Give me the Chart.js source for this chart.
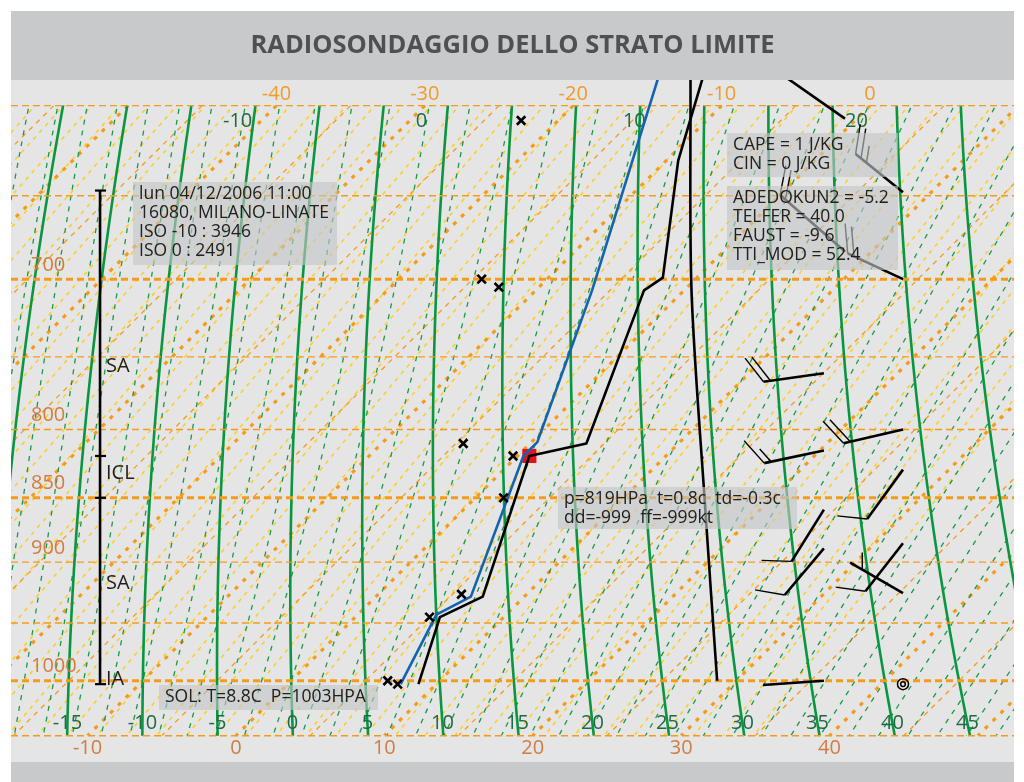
<!DOCTYPE html>
<html>
<head>
<meta charset="utf-8">
<title>Radiosondaggio dello strato limite</title>
<script src="https://cdn.jsdelivr.net/npm/chart.js@4.4.1/dist/chart.umd.min.js"></script>
<style>
  html, body { margin: 0; padding: 0; background: #ffffff; }
  canvas { display: block; }
</style>
</head>
<body>
<canvas id="sounding" width="1024" height="782"></canvas>
<script>
// ---- Station / time ----
const stationLine = '16080, MILANO-LINATE';
const timeLine = 'lun 04/12/2006 11:00';
const isoLevels = ['ISO -10 : 3946', 'ISO 0 : 2491'];
const indexLines = ['ADEDOKUN2 = -5.2', 'TELFER = 40.0', 'FAUST = -9.6', 'TTI_MOD = 52.4'];
const energyLines = ['CAPE = 1 J/KG', 'CIN = 0 J/KG'];

// ---- Sounding (pressure hPa, temperature °C) ----
const tempPressure = [1003, 945, 928, 819, 810, 707, 699, 630, 586];
const tempValues   = [8.8, 5.7, 7.2, 0.8, 3.8, -2.7, -2.3, -9.2, -13.1];

const wetBulbPressure = [1003, 943, 928, 819, 809, 707, 586];
const wetBulbValues   = [7.6, 5.3, 6.4, 0.4, 0.4, -6.2, -16.1];

const dewPressure = [1003, 1000, 945, 926, 850, 819, 810, 705, 700, 608];
const dewValues   = [7.4, 6.5, 5.0, 5.6, 1.9, -0.3, -4.5, -12.7, -14.4, -22.5];

const adiabatPressure = [1000, 859, 707, 586];
const adiabatValues   = [28.7, 16.3, 0.5, -13.9];

// selected level
const selPressure = 819, selTemp = 0.8, selDew = -0.3, selDir = -999, selSpeed = -999;
// surface
const surfTemp = 8.8, surfPressure = 1003;

// ---- Winds (pressure hPa, direction deg, speed kt) ----
const windAPressure = [761, 815, 859, 889, 1000];
const windADir      = [262, 258, 212, 220, 266];
const windASpeed    = [20, 15, 10, 10, 2];
const windBPressure = [648, 700, 800, 829, 885, 925, 1003];
const windBDir      = [309, 295, 257, 216, 218, 300, 0];
const windBSpeed    = [25, 20, 20, 10, 10, 5, 0];
const windCPressure = [607, 683];
const windCDir      = [305, 311];
const windCSpeed    = [30, 20];

// ---- Boundary layer classification column ----
const layerBounds = [647, 819, 850, 1003];
const layerNames = ['SA', 'ICL', 'SA', 'IA'];
const layerNamePressure = [756, 832, 917, 999];

// ---- Diagram grid ----
const isobars = [600, 650, 700, 750, 800, 850, 900, 950, 1000, 1050];
const majorIsobars = [700, 850, 1000];
const pressureLabels = [700, 800, 850, 900, 1000];
const isotherms = [];
for (let t = -120; t <= 60; t += 5) isotherms.push(t);
const topTempLabels = [-40, -30, -20, -10, 0];
const bottomTempLabels = [-10, 0, 10, 20, 30, 40];
const dryAdiabats = [];
for (let th = -20; th <= 50; th += 5) dryAdiabats.push(th);
const dryAdiabatLabels = [-15, -10, -5, 0, 5, 10, 15, 20, 25, 30, 35, 40, 45];
const pseudoAdiabats = [];
for (let tw = -30; tw <= 54; tw += 2) pseudoAdiabats.push(tw);
const pseudoAdiabatLabels = [-10, 0, 10, 20];
const mixingDew1000 = [];
for (let td = -70; td <= 34; td += 2) mixingDew1000.push(td);

// ---- Projection: skewed temperature vs log pressure ----
const P_BASE = 1050;
const SKEW = 76.35;
const P_TOP = 586.5, P_BOTTOM = 1074.8;
const X_MIN = -15.16, X_MAX = 52.43;
const GRID_TOP = 600, GRID_BOTTOM = 1050;
const skewX = (t, p) => t + SKEW * Math.log(P_BASE / p);
const toPoints = (ps, ts) => ps.map((p, i) => ({ x: skewX(ts[i], p), y: p }));

// ---- Thermodynamics for the reference curves ----
const esat = tc => 6.112 * Math.exp(17.67 * tc / (tc + 243.5));
function moistGradient(tk, lnp) {
  const p = Math.exp(lnp);
  const es = esat(tk - 273.15);
  const rs = 0.622 * es / Math.max(p - es, 1);
  const Lv = 2.501e6, Rd = 287.04, Cp = 1005.7;
  return (Rd * tk + Lv * rs) / (Cp + Lv * Lv * rs * 0.622 / (Rd * tk * tk));
}
function pseudoAdiabat(twC, pressures) {
  const out = new Map();
  const up = pressures.filter(p => p <= 1000).sort((a, b) => b - a);
  const down = pressures.filter(p => p > 1000).sort((a, b) => a - b);
  for (const list of [up, down]) {
    let T = twC + 273.15, lp = Math.log(1000);
    for (const p of list) {
      const target = Math.log(p);
      const n = Math.max(1, Math.ceil(Math.abs(target - lp) / 0.004));
      const h = (target - lp) / n;
      for (let i = 0; i < n; i++) {
        const k1 = moistGradient(T, lp);
        const k2 = moistGradient(T + k1 * h / 2, lp + h / 2);
        const k3 = moistGradient(T + k2 * h / 2, lp + h / 2);
        const k4 = moistGradient(T + k3 * h, lp + h);
        T += h * (k1 + 2 * k2 + 2 * k3 + k4) / 6;
        lp += h;
      }
      out.set(p, T - 273.15);
    }
  }
  return pressures.map(p => out.get(p));
}
const dryAdiabatT = (thC, p) => (thC + 273.15) * Math.pow(p / 1000, 0.2857) - 273.15;
function mixingLineT(td1000, p) {
  const es = esat(td1000);
  const w = 0.622 * es / (1000 - es);
  const e = w * p / (0.622 + w);
  const L = Math.log(e / 6.112);
  return 243.5 * L / (17.67 - L);
}

// ---- Colours and fonts ----
const FONT = "'Open Sans', 'Noto Sans', 'DejaVu Sans', sans-serif";
const BAND = '#c8c9cb';
const PLOT_BG = '#e4e5e4';
const ORANGE = '#f59b1c';
const ORANGE_TEXT = '#f29a2a';
const BROWN_TEXT = '#d07c42';
const YELLOW = '#ffcd1e';
const GREEN = '#0a9640';
const GREEN_DASH = '#18994a';
const GREEN_TEXT = '#1f6a45';

function strokePath(ctx, pts, color, width, dash) {
  ctx.beginPath();
  pts.forEach(([x, y], i) => (i ? ctx.lineTo(x, y) : ctx.moveTo(x, y)));
  ctx.strokeStyle = color;
  ctx.lineWidth = width;
  ctx.setLineDash(dash);
  ctx.stroke();
}

const samplePressures = [];
for (let p = 596; p <= 1056; p += 4) samplePressures.push(p);

function drawBarb(ctx, bx, by, dir, speed, len) {
  ctx.setLineDash([]);
  ctx.strokeStyle = '#000';
  if (speed === 0) {
    ctx.lineWidth = 1.5;
    ctx.beginPath(); ctx.arc(bx, by, 5.5, 0, Math.PI * 2); ctx.stroke();
    ctx.beginPath(); ctx.arc(bx, by, 2.3, 0, Math.PI * 2); ctx.stroke();
    return;
  }
  const r = dir * Math.PI / 180;
  const ux = Math.sin(r), uy = -Math.cos(r);
  const ex = bx + ux * len, ey = by + uy * len;
  ctx.lineWidth = 2.6;
  ctx.beginPath(); ctx.moveTo(bx, by); ctx.lineTo(ex, ey); ctx.stroke();
  const c = Math.cos(Math.PI / 3), s = Math.sin(Math.PI / 3);
  const tx = ux * c - uy * s, ty = ux * s + uy * c;
  const v = Math.round(speed / 5) * 5;
  const full = Math.floor(v / 10);
  const half = (v % 10) >= 5 ? 1 : 0;
  const gap = 7;
  ctx.lineWidth = 1.4;
  let k = 0;
  for (let i = 0; i < full; i++, k++) {
    const px = ex - ux * gap * k, py = ey - uy * gap * k;
    ctx.beginPath(); ctx.moveTo(px, py); ctx.lineTo(px + tx * 30, py + ty * 30); ctx.stroke();
  }
  if (half) {
    if (full === 0) k = 2;
    const px = ex - ux * gap * k, py = ey - uy * gap * k;
    ctx.beginPath(); ctx.moveTo(px, py); ctx.lineTo(px + tx * 17, py + ty * 17); ctx.stroke();
  }
}

const diagramPlugin = {
  id: 'skewDiagram',
  beforeDraw(chart) {
    const { ctx, chartArea: a } = chart;
    ctx.save();
    ctx.fillStyle = '#ffffff';
    ctx.fillRect(0, 0, chart.width, chart.height);
    ctx.fillStyle = BAND;
    ctx.fillRect(a.left, 11, a.right - a.left, a.top - 11);
    ctx.fillRect(a.left, a.bottom, a.right - a.left, chart.height - a.bottom);
    ctx.fillStyle = PLOT_BG;
    ctx.fillRect(a.left, a.top, a.right - a.left, a.bottom - a.top);
    ctx.fillStyle = '#4f5051';
    ctx.font = 'bold 25.5px ' + FONT;
    ctx.textAlign = 'center';
    ctx.textBaseline = 'middle';
    ctx.fillText('RADIOSONDAGGIO DELLO STRATO LIMITE', (a.left + a.right) / 2, 46);
    ctx.restore();
  },
  beforeDatasetsDraw(chart) {
    const { ctx, chartArea: a, scales } = chart;
    const xs = scales.x, ys = scales.y;
    const px = (t, p) => xs.getPixelForValue(skewX(t, p));
    const py = p => ys.getPixelForValue(p);
    const yTop = py(GRID_TOP), yBot = py(GRID_BOTTOM);

    ctx.save();
    ctx.beginPath();
    ctx.rect(a.left, yTop, a.right - a.left, yBot - yTop);
    ctx.clip();
    ctx.lineCap = 'butt';

    // saturation mixing ratio lines
    mixingDew1000.forEach(td => {
      const pts = [GRID_TOP - 5, 700, 800, 900, 1000, GRID_BOTTOM + 5].map(p => [px(mixingLineT(td, p), p), py(p)]);
      strokePath(ctx, pts, YELLOW, 1.5, [4, 5]);
    });
    // isotherms
    isotherms.forEach(t => {
      const pts = [[px(t, GRID_TOP), yTop], [px(t, GRID_BOTTOM), yBot]];
      if (t % 10 === 0) strokePath(ctx, pts, ORANGE, 3.2, [4, 7]);
      else strokePath(ctx, pts, ORANGE, 1.3, [5, 5]);
    });
    // pseudo-adiabats
    pseudoAdiabats.forEach(tw => {
      const ts = pseudoAdiabat(tw, samplePressures);
      const pts = samplePressures.map((p, i) => [px(ts[i], p), py(p)]);
      strokePath(ctx, pts, GREEN_DASH, 1.3, [5, 6]);
    });
    // dry adiabats
    dryAdiabats.forEach(th => {
      const pts = samplePressures.map(p => [px(dryAdiabatT(th, p), p), py(p)]);
      strokePath(ctx, pts, GREEN, 2.6, []);
    });
    ctx.restore();

    // isobars across the whole width
    ctx.save();
    isobars.forEach(p => {
      const y = py(p);
      const major = majorIsobars.includes(p);
      strokePath(ctx, [[a.left, y], [a.right, y]], ORANGE, major ? 3 : 1.4, [7, 4]);
    });

    // labels
    ctx.setLineDash([]);
    ctx.textBaseline = 'middle';
    ctx.font = '20px ' + FONT;
    ctx.textAlign = 'left';
    ctx.fillStyle = BROWN_TEXT;
    pressureLabels.forEach(p => ctx.fillText(String(p), a.left + 20, py(p) - 14));

    ctx.textAlign = 'center';
    ctx.fillStyle = ORANGE_TEXT;
    topTempLabels.forEach(t => ctx.fillText(String(t), px(t, GRID_TOP), yTop - 11));
    ctx.fillStyle = BROWN_TEXT;
    bottomTempLabels.forEach(t => ctx.fillText(String(t), px(t, GRID_BOTTOM), yBot + 13));

    ctx.fillStyle = GREEN_TEXT;
    const pLow = ys.getValueForPixel(yBot - 12);
    dryAdiabatLabels.forEach(th => ctx.fillText(String(th), px(dryAdiabatT(th, pLow), pLow), yBot - 12));
    const pHigh = ys.getValueForPixel(yTop + 16);
    pseudoAdiabatLabels.forEach(tw => {
      const t = pseudoAdiabat(tw, [pHigh])[0];
      ctx.fillText(String(tw), px(t, pHigh) - 5, yTop + 16);
    });
    ctx.restore();
  },
  afterDatasetsDraw(chart) {
    const { ctx, chartArea: a, scales } = chart;
    const xs = scales.x, ys = scales.y;
    const py = p => ys.getPixelForValue(p);

    ctx.save();
    ctx.beginPath();
    ctx.rect(a.left, a.top, a.right - a.left, a.bottom - a.top);
    ctx.clip();

    // boundary layer classification column
    const cx = xs.getPixelForValue(-9.16);
    ctx.strokeStyle = '#000';
    ctx.setLineDash([]);
    ctx.lineWidth = 2.6;
    ctx.beginPath();
    ctx.moveTo(cx, py(layerBounds[0]));
    ctx.lineTo(cx, py(layerBounds[layerBounds.length - 1]));
    ctx.stroke();
    ctx.lineWidth = 2.2;
    layerBounds.forEach(p => {
      ctx.beginPath(); ctx.moveTo(cx - 5, py(p)); ctx.lineTo(cx + 6, py(p)); ctx.stroke();
    });
    ctx.fillStyle = '#1e1e1e';
    ctx.font = '20px ' + FONT;
    ctx.textAlign = 'left';
    ctx.textBaseline = 'middle';
    layerNames.forEach((n, i) => ctx.fillText(n, cx + 6, py(layerNamePressure[i])));

    // wind barbs, three columns
    const columns = [
      { x: 39.62, len: 61, p: windAPressure, d: windADir, s: windASpeed },
      { x: 44.95, len: 61, p: windBPressure, d: windBDir, s: windBSpeed },
      { x: 41.04, len: 86, p: windCPressure, d: windCDir, s: windCSpeed },
    ];
    columns.forEach(col => {
      const bx = xs.getPixelForValue(col.x);
      col.p.forEach((p, i) => drawBarb(ctx, bx, py(p), col.d[i], col.s[i], col.len));
    });
    ctx.restore();

    // information boxes
    const boxes = [
      { x: 133, y: 182, w: 204, h: 83, lines: [timeLine, stationLine, ...isoLevels] },
      { x: 727, y: 133, w: 171, h: 44, lines: energyLines },
      { x: 727, y: 186, w: 171, h: 84, lines: indexLines },
      { x: 558, y: 487, w: 239, h: 42, lines: [
          `p=${selPressure}HPa  t=${selTemp}c  td=${selDew}c`,
          `dd=${selDir}  ff=${selSpeed}kt`] },
      { x: 159, y: 685, w: 219, h: 25, lines: [`SOL: T=${surfTemp}C  P=${surfPressure}HPA`] },
    ];
    ctx.save();
    ctx.font = '17.5px ' + FONT;
    ctx.textAlign = 'left';
    ctx.textBaseline = 'middle';
    boxes.forEach(b => {
      ctx.fillStyle = 'rgba(196,197,199,0.62)';
      ctx.fillRect(b.x, b.y, b.w, b.h);
      ctx.fillStyle = '#202020';
      b.lines.forEach((t, i) => ctx.fillText(t, b.x + 6, b.y + 12 + i * 19));
    });
    ctx.restore();
  }
};

new Chart(document.getElementById('sounding').getContext('2d'), {
  type: 'line',
  data: {
    datasets: [
      {
        label: 'Td',
        data: toPoints(dewPressure, dewValues),
        showLine: false,
        pointStyle: 'crossRot',
        pointRadius: 6,
        pointBorderWidth: 2.6,
        pointBorderColor: '#000',
        borderColor: '#000',
        clip: 0
      },
      {
        label: 'T',
        data: toPoints(tempPressure, tempValues),
        borderColor: '#000',
        borderWidth: 2.6,
        pointRadius: 0,
        borderJoinStyle: 'round',
        clip: 0
      },
      {
        label: 'Tw',
        data: toPoints(wetBulbPressure, wetBulbValues),
        borderColor: '#1563b0',
        borderWidth: 2.6,
        pointRadius: 0,
        borderJoinStyle: 'round',
        clip: 0
      },
      {
        label: 'Adiabatica',
        data: toPoints(adiabatPressure, adiabatValues),
        borderColor: '#000',
        borderWidth: 2.6,
        pointRadius: 0,
        tension: 0.3,
        clip: 0
      },
      {
        label: 'Livello',
        data: toPoints([selPressure], [selTemp]),
        showLine: false,
        pointStyle: 'rect',
        pointRadius: 10,
        pointBackgroundColor: '#e3131d',
        pointBorderWidth: 0,
        clip: 0
      }
    ]
  },
  options: {
    responsive: false,
    animation: false,
    devicePixelRatio: 1,
    layout: { padding: { left: 11, right: 10, top: 80, bottom: 20 } },
    plugins: { legend: { display: false }, tooltip: { enabled: false } },
    scales: {
      x: { type: 'linear', display: false, min: X_MIN, max: X_MAX },
      y: { type: 'logarithmic', display: false, reverse: true, min: P_TOP, max: P_BOTTOM }
    }
  },
  plugins: [diagramPlugin]
});
</script>
</body>
</html>
